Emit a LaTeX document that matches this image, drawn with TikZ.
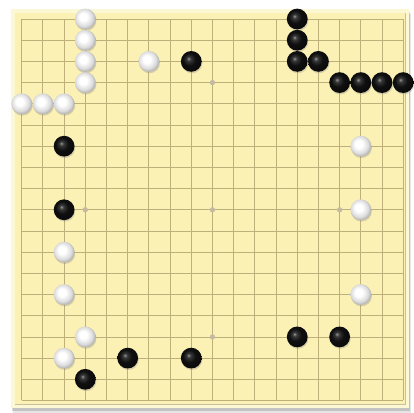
\documentclass[tikz,border=0pt]{standalone}
\usepackage{tikz}
\usepackage{xcolor}
\definecolor{boardyellow}{RGB}{252,241,180}
\definecolor{boardlight}{RGB}{253,248,212}
\definecolor{gridbrown}{RGB}{190,176,122}
\definecolor{edgegray}{RGB}{200,192,160}
\definecolor{hoshigray}{RGB}{196,186,160}
\usetikzlibrary{shadows}
\pgfdeclareradialshading{whitestone}{\pgfpoint{-6bp}{6bp}}{color(0bp)=(white); color(9bp)=(white); color(21bp)=(black!14); color(30bp)=(black!38); color(50bp)=(black!38)}
\pgfdeclareradialshading{blackstone}{\pgfpoint{-7bp}{7bp}}{color(0bp)=(black!40); color(5bp)=(black!78); color(15bp)=(black!94); color(50bp)=(black)}

\begin{document}
\begin{tikzpicture}[
    x=0.5cm, y=-0.5cm,
    gridln/.style={draw=gridbrown, line width=0.55pt},
    hoshi/.style={circle, fill=hoshigray, inner sep=0pt, minimum size=3.6pt},
    wstone/.style={circle, inner sep=0pt, minimum size=0.49cm, shading=whitestone,
                   drop shadow={shadow xshift=0.5pt, shadow yshift=-1pt, opacity=0.3}},
    bstone/.style={circle, inner sep=0pt, minimum size=0.49cm, shading=blackstone,
                   drop shadow={shadow xshift=0.5pt, shadow yshift=-1pt, opacity=0.3}},
]
\useasboundingbox (-1.024,-0.897) rectangle (18.51,18.59);

% ===== board with its shadow =====
\fill[black, opacity=0.10] (-0.42,-0.25) rectangle (18.36,18.58);
\fill[black, opacity=0.15] (-0.46,-0.35) rectangle (18.31,18.48);
\fill[boardlight] (-0.505,-0.46) rectangle (18.28,18.36);
\fill[boardyellow] (-0.316,-0.283) rectangle (18.12,18.19);
\draw[edgegray, line width=0.5pt] (18.12,-0.283) -- (18.12,18.19) -- (-0.316,18.19);

% grid lines
\draw[gridln, step=0.5cm] (0,0) grid (18,18);

% star points
\node[hoshi] (h1) at (3,3) {};
\node[hoshi] (h2) at (9,3) {};
\node[hoshi] (h3) at (15,3) {};
\node[hoshi] (h4) at (3,9) {};
\node[hoshi] (h5) at (9,9) {};
\node[hoshi] (h6) at (15,9) {};
\node[hoshi] (h7) at (3,15) {};
\node[hoshi] (h8) at (9,15) {};
\node[hoshi] (h9) at (15,15) {};

% ===== white stones =====
\node[wstone] (w1) at (3,0) {};
\node[wstone] (w2) at (3,1) {};
\node[wstone] (w3) at (3,2) {};
\node[wstone] (w4) at (3,3) {};
\node[wstone] (w5) at (0,4) {};
\node[wstone] (w6) at (1,4) {};
\node[wstone] (w7) at (2,4) {};
\node[wstone] (w8) at (6,2) {};
\node[wstone] (w9) at (16,6) {};
\node[wstone] (w10) at (16,9) {};
\node[wstone] (w11) at (16,13) {};
\node[wstone] (w12) at (2,11) {};
\node[wstone] (w13) at (2,13) {};
\node[wstone] (w14) at (3,15) {};
\node[wstone] (w15) at (2,16) {};

% ===== black stones =====
\node[bstone] (b1) at (13,0) {};
\node[bstone] (b2) at (13,1) {};
\node[bstone] (b3) at (13,2) {};
\node[bstone] (b4) at (14,2) {};
\node[bstone] (b5) at (15,3) {};
\node[bstone] (b6) at (16,3) {};
\node[bstone] (b7) at (17,3) {};
\node[bstone] (b8) at (18,3) {};
\node[bstone] (b9) at (8,2) {};
\node[bstone] (b10) at (2,6) {};
\node[bstone] (b11) at (2,9) {};
\node[bstone] (b12) at (3,17) {};
\node[bstone] (b13) at (5,16) {};
\node[bstone] (b14) at (8,16) {};
\node[bstone] (b15) at (13,15) {};
\node[bstone] (b16) at (15,15) {};

\end{tikzpicture}
\end{document}
